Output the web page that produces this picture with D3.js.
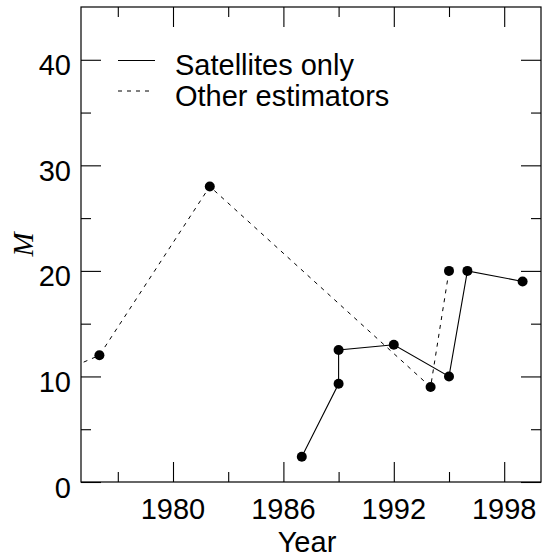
<!DOCTYPE html>
<html>
<head>
<meta charset="utf-8">
<script src="https://cdnjs.cloudflare.com/ajax/libs/d3/7.8.5/d3.min.js"></script>
<style>
  body { margin: 0; background: #fff; }
  text { font-family: "Liberation Sans", Arial, sans-serif; fill: #000; }
</style>
</head>
<body>
<div id="visualisation"></div>
<script>
// data
var satYears = [1987, 1989, 1989, 1992, 1995, 1996, 1999];
var satValues = [2.4, 9.3, 12.5, 13, 10, 20, 19];

// first point sits left of the frame, only its line shows
var otherYears = [1972, 1976, 1982, 1994, 1995];
var otherValues = [9, 12, 28, 9, 20];

var xMajorTicks = [1980, 1986, 1992, 1998];
var xMinorTicks = [1977, 1983, 1989, 1995];
var yMajorTicks = [0, 10, 20, 30, 40];
var yMinorTicks = [5, 15, 25, 35];

var legendLabels = ["Satellites only", "Other estimators"];

// set the dimensions and margins of the graph
var margin = {top: 7, right: 2, bottom: 77, left: 81},
    width = 543 - margin.left - margin.right,
    height = 559 - margin.top - margin.bottom;

var svg = d3.select("#visualisation")
    .append("svg")
    .attr("width", width + margin.left + margin.right)
    .attr("height", height + margin.top + margin.bottom)
    .append("g")
    .attr("transform", "translate(" + margin.left + "," + margin.top + ")");

var xScale = d3.scaleLinear().domain([1975, 2000]).range([0, width]);
var yScale = d3.scaleLinear().domain([0, 45]).range([height, 0]);

var satData = satYears.map((y, i) => ({year: y, value: satValues[i]}));
var otherData = otherYears.map((y, i) => ({year: y, value: otherValues[i]}));

svg.append("clipPath")
    .attr("id", "clip")
    .append("rect")
    .attr("width", width)
    .attr("height", height);

// ticks pointing inward on all four sides
function drawAxis(axis, ticks, size) {
    return g => g.call(axis.tickValues(ticks).tickSize(size).tickSizeOuter(0).tickFormat(""))
        .call(g => g.select(".domain").remove())
        .call(g => g.selectAll(".tick line").attr("stroke", "#000").attr("stroke-width", 1.1));
}

svg.append("g").attr("transform", `translate(0,${height})`).call(drawAxis(d3.axisBottom(xScale), xMajorTicks, -20));
svg.append("g").attr("transform", `translate(0,${height})`).call(drawAxis(d3.axisBottom(xScale), xMinorTicks, -10));
svg.append("g").call(drawAxis(d3.axisTop(xScale), xMajorTicks, -20));
svg.append("g").call(drawAxis(d3.axisTop(xScale), xMinorTicks, -10));
svg.append("g").call(drawAxis(d3.axisLeft(yScale), yMajorTicks, -20));
svg.append("g").call(drawAxis(d3.axisLeft(yScale), yMinorTicks, -10));
svg.append("g").attr("transform", `translate(${width},0)`).call(drawAxis(d3.axisRight(yScale), yMajorTicks, -20));
svg.append("g").attr("transform", `translate(${width},0)`).call(drawAxis(d3.axisRight(yScale), yMinorTicks, -10));

// frame
svg.append("rect")
    .attr("width", width)
    .attr("height", height)
    .attr("fill", "none")
    .attr("stroke", "#000")
    .attr("stroke-width", 1.2);

// tick labels
svg.selectAll(".xlab")
    .data(xMajorTicks)
    .enter()
    .append("text")
    .attr("x", d => xScale(d))
    .attr("y", height + 37)
    .attr("text-anchor", "middle")
    .attr("font-size", "29px")
    .text(d => d);

svg.selectAll(".ylab")
    .data(yMajorTicks)
    .enter()
    .append("text")
    .attr("x", -10)
    .attr("y", d => yScale(d) + 15.5)
    .attr("text-anchor", "end")
    .attr("font-size", "29px")
    .text(d => d);

// axis titles
svg.append("text")
    .attr("x", 226)
    .attr("y", height + 70)
    .attr("text-anchor", "middle")
    .attr("font-size", "29px")
    .text("Year");

svg.append("text")
    .attr("transform", "translate(" + (33 - margin.left) + "," + (height / 2) + ") rotate(-90)")
    .attr("text-anchor", "middle")
    .attr("font-size", "29px")
    .attr("font-style", "italic")
    .style("font-family", "'Liberation Serif', 'Times New Roman', serif")
    .text("M");

var line = d3.line().x(d => xScale(d.year)).y(d => yScale(d.value));

var plot = svg.append("g").attr("clip-path", "url(#clip)");

plot.append("path")
    .datum(otherData)
    .attr("d", line)
    .attr("fill", "none")
    .attr("stroke", "#000")
    .attr("stroke-width", 1)
    .attr("stroke-dasharray", "4,5");

plot.append("path")
    .datum(satData)
    .attr("d", line)
    .attr("fill", "none")
    .attr("stroke", "#000")
    .attr("stroke-width", 1.1);

plot.selectAll(".dot")
    .data(otherData.concat(satData))
    .enter()
    .append("circle")
    .attr("cx", d => xScale(d.year))
    .attr("cy", d => yScale(d.value))
    .attr("r", 5)
    .attr("fill", "#000");

// legend
var legend = svg.append("g");
legend.selectAll("line")
    .data(legendLabels)
    .enter()
    .append("line")
    .attr("x1", 37)
    .attr("x2", (d, i) => i == 0 ? 74 : 71)
    .attr("y1", (d, i) => 53.5 + i * 30.5)
    .attr("y2", (d, i) => 53.5 + i * 30.5)
    .attr("stroke", "#000")
    .attr("stroke-width", 1)
    .attr("stroke-dasharray", (d, i) => i == 0 ? null : "4,5");

legend.selectAll("text")
    .data(legendLabels)
    .enter()
    .append("text")
    .attr("x", 94)
    .attr("y", (d, i) => 68 + i * 31)
    .attr("font-size", "29px")
    .text(d => d);
</script>
</body>
</html>
